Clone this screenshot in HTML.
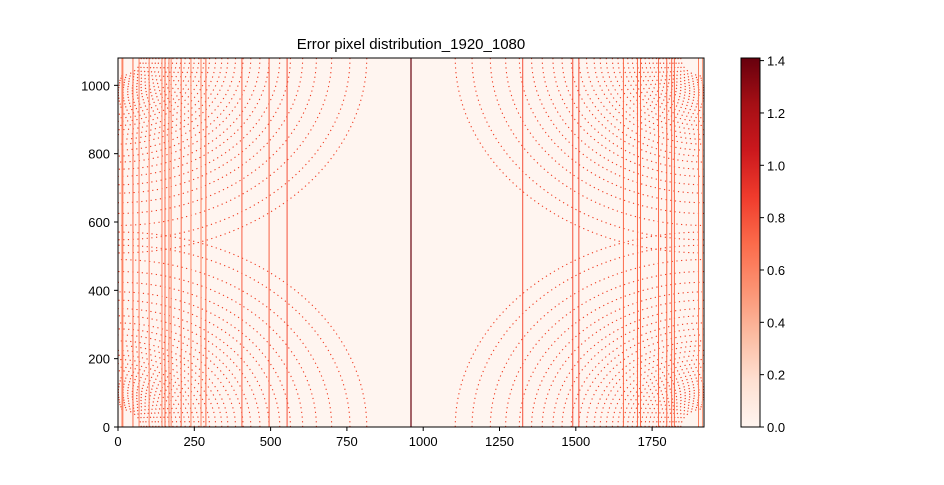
<!DOCTYPE html>
<html><head><meta charset="utf-8"><style>
body{margin:0;background:#fff;font-family:"Liberation Sans",sans-serif;}
</style></head><body>
<svg id="c" width="944" height="480" xmlns="http://www.w3.org/2000/svg" font-family="Liberation Sans, sans-serif">
<defs>
<linearGradient id="cg" x1="0" y1="1" x2="0" y2="0">
<stop offset="0" stop-color="#fff5f0"/><stop offset="0.125" stop-color="#fee0d2"/><stop offset="0.25" stop-color="#fcbba1"/><stop offset="0.375" stop-color="#fc9272"/><stop offset="0.5" stop-color="#fb6a4a"/><stop offset="0.625" stop-color="#ef3b2c"/><stop offset="0.75" stop-color="#cb181d"/><stop offset="0.875" stop-color="#a50f15"/><stop offset="1" stop-color="#67000d"/>
</linearGradient>
<clipPath id="pc"><rect x="118" y="58" width="586" height="369"/></clipPath>
</defs>
<text x="411" y="49" text-anchor="middle" font-size="15">Error pixel distribution_1920_1080</text>
<rect x="118" y="58" width="586" height="369" fill="#fff5f0"/>
<g id="marks" clip-path="url(#pc)"></g>
<rect x="118" y="58" width="586" height="369" fill="none" stroke="#000" stroke-width="1"/>
<g id="axes"></g>
<rect x="741" y="58" width="19" height="369" fill="url(#cg)" stroke="#000" stroke-width="1"/>
<g id="cbax"></g>
</svg>
<script>
const xTicks=[0,250,500,750,1000,1250,1500,1750];
const yTicks=[0,200,400,600,800,1000];
const cbTicks=[0,0.2,0.4,0.6,0.8,1.0,1.2,1.4];
const lineCols=[13,16,49,69,102,144,154,167,174,207,239,272,288,406,495,554,1326,1490,1510,1656,1702,1712,1771,1798,1814,1823,1902,1915];
const lineVals=[0.6,0.6,0.7,0.6,0.6,0.6,0.7,0.6,0.6,0.7,0.6,0.6,0.7,0.75,0.75,0.8,0.8,0.8,0.8,0.7,0.7,0.7,0.7,0.7,0.7,0.7,0.6,0.5];
const centerCol=[960];
const centerVal=[1.41];
const arcRadii=[815,760,700,650,605,565,530,495,465,435,410,385,360,340,320,300,282,265,250,235,220,206,193,180,168,156,145,134,124,114,104,94,85,76];
const arcRatio=0.7;
const W=1920,H=1080,VMAX=1.41;
const x=v=>118+v*586/W;
const y=v=>427-v*369/H;
const NS='http://www.w3.org/2000/svg';
function col(v){const s=[[255,245,240],[254,224,210],[252,187,161],[252,146,114],[251,106,74],[239,59,44],[203,24,29],[165,15,21],[103,0,13]];let t=Math.max(0,Math.min(1,v/VMAX))*8;let i=Math.min(7,Math.floor(t));let f=t-i;let c=s[i].map((a,k)=>Math.round(a+(s[i+1][k]-a)*f));return`rgb(${c})`;}
function mk(tag,at,parent){const e=document.createElementNS(NS,tag);for(const k in at)e.setAttribute(k,at[k]);parent.appendChild(e);return e;}
const marks=document.getElementById('marks');
const corners=[[0,0],[0,H],[W,0],[W,H]];
corners.forEach((c,ci)=>{
  arcRadii.forEach((r,ri)=>{
    const a=r,b=r*arcRatio;
    const sx=c[0]===0?1:-1, sy=c[1]===0?1:-1;
    const d=`M${x(c[0]+sx*a)},${y(c[1])} A${a*586/W},${b*369/H} 0 0 ${(sx*sy>0)?0:1} ${x(c[0])},${y(c[1]+sy*b)}`;
    const p=mk('path',{d:d,fill:'none',stroke:'#f03b20','stroke-width':1.1,'stroke-dasharray':'1.2 3.5'},marks);
    
    
  });
});
lineCols.forEach((v,i)=>{
  const l=mk('line',{x1:x(v),x2:x(v),y1:58,y2:427,stroke:col(lineVals[i]),'stroke-width':1},marks);
  
  
});
centerCol.forEach((v,i)=>{
  const l=mk('line',{x1:x(v),x2:x(v),y1:58,y2:427,stroke:col(centerVal[i]),'stroke-width':1.2},marks);
  
  
});
const ax=document.getElementById('axes');
xTicks.forEach(t=>{
  const l=mk('line',{x1:x(t),x2:x(t),y1:427,y2:431,stroke:'#000'},ax);
  
  
  const tx=mk('text',{x:x(t),y:446,'text-anchor':'middle','font-size':13},ax);tx.textContent=t;
  
  
});
yTicks.forEach(t=>{
  const l=mk('line',{x1:114,x2:118,y1:y(t),y2:y(t),stroke:'#000'},ax);
  
  
  const tx=mk('text',{x:110,y:y(t)+5,'text-anchor':'end','font-size':13},ax);tx.textContent=t;
  
  
});
const cb=document.getElementById('cbax');
cbTicks.forEach(t=>{
  const yy=427-t*369/VMAX;
  const l=mk('line',{x1:760,x2:764,y1:yy,y2:yy,stroke:'#000'},cb);
  
  
  const tx=mk('text',{x:767,y:yy+5,'font-size':13},cb);tx.textContent=t.toFixed(1);
  
  
});
</script>
</body></html>
